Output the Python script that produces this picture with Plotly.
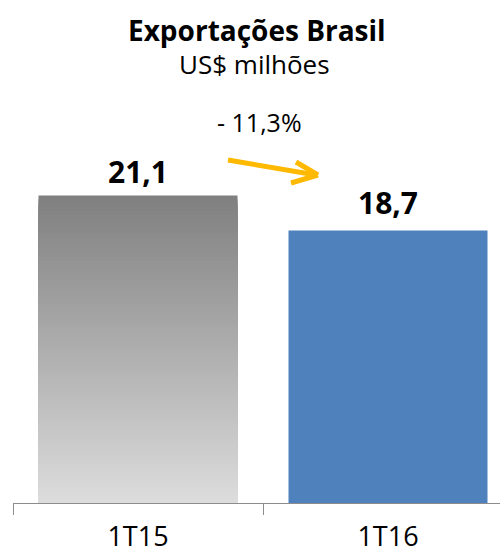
import plotly.graph_objects as go

categories = ["1T15", "1T16"]
values = [21.1, 18.7]
value_labels = ["21,1", "18,7"]
change_label = "- 11,3%"
title = "Exportações Brasil"
subtitle = "US$ milhões"

W, H = 500, 560
ML, MR, MT, MB = 13, 0, 0, 57
PW, PH = W - ML - MR, H - MT - MB

def px(x):
    return (x - ML) / PW

def py(y):
    return (H - MB - y) / PH

FONT = "'Open Sans', sans-serif"
fig = go.Figure()

# gradient first bar: overlapping bars from base 0, tallest (darkest) first
N = 80
top_c = (0x80, 0x80, 0x80)
bot_c = (0xDC, 0xDC, 0xDC)
for i in range(N):
    frac = (N - i) / N
    t = i / (N - 1)
    c = tuple(round(top_c[k] + (bot_c[k] - top_c[k]) * t) for k in range(3))
    fig.add_trace(go.Bar(
        x=[categories[0]], y=[values[0] * frac], width=0.796,
        marker=dict(color="rgb(%d,%d,%d)" % c, line=dict(width=0)),
        hoverinfo="skip", showlegend=False))

fig.add_trace(go.Bar(
    x=[categories[1]], y=[values[1]], width=0.796,
    marker=dict(color="#4F81BD", line=dict(width=0)),
    showlegend=False))

for cat, v, lab, sh in zip(categories, values, value_labels, [2, 6]):
    fig.add_annotation(x=cat, y=v, text="<b>%s</b>" % lab, showarrow=False,
                       yanchor="bottom", yshift=sh,
                       font=dict(family=FONT, size=30, color="#000000"))

fig.add_annotation(xref="paper", yref="paper", x=px(257), y=py(30),
                   text="<b>%s</b>" % title, showarrow=False, yanchor="middle",
                   font=dict(family=FONT, size=28, color="#000000"))
fig.add_annotation(xref="paper", yref="paper", x=px(254), y=py(64),
                   text=subtitle, showarrow=False, yanchor="middle",
                   font=dict(family=FONT, size=26, color="#000000"))
fig.add_annotation(xref="paper", yref="paper", x=px(259), y=py(122),
                   text=change_label, showarrow=False, yanchor="middle",
                   font=dict(family=FONT, size=25, color="#000000"))

# orange arrow
orange = "#FFB900"
for (x0, y0, x1, y1) in [(228, 160, 316, 175), (296, 162, 318, 175), (291, 183, 318, 175)]:
    fig.add_shape(type="line", xref="paper", yref="paper",
                  x0=px(x0), y0=py(y0), x1=px(x1), y1=py(y1),
                  line=dict(color=orange, width=5), layer="above")

fig.update_layout(
    width=W, height=H, margin=dict(l=ML, r=MR, t=MT, b=MB, autoexpand=False),
    paper_bgcolor="white", plot_bgcolor="white", barmode="overlay",
    xaxis=dict(range=[-0.5, 1.448], showline=True, linecolor="#8C8C8C", linewidth=1,
               ticks="outside", tickson="boundaries", ticklen=11, tickcolor="#8C8C8C",
               tickfont=dict(family=FONT, size=27, color="#000000"),
               ticklabelstandoff=10,
               automargin=False,
               showgrid=False, zeroline=False, fixedrange=True),
    yaxis=dict(range=[0, 34.52], visible=False, showgrid=False, zeroline=False,
               automargin=False),
)

fig.write_html("out.html", post_script="document.body.style.margin='0';",
               config={"displayModeBar": False})
